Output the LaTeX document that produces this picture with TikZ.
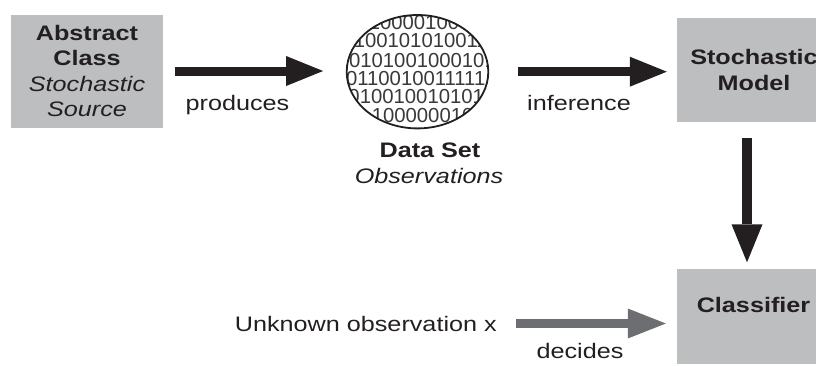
\documentclass[tikz,border=0pt]{standalone}
\usepackage{fontspec}
\setmainfont{Liberation Sans}[FakeStretch=1.2]
\newfontfamily\bitsfont{Liberation Sans}
\usetikzlibrary{arrows.meta,shapes.geometric}
\definecolor{boxgray}{HTML}{BCBEC0}
\definecolor{ink}{HTML}{231F20}
\definecolor{bitink}{HTML}{3A3839}
\definecolor{arrowgray}{HTML}{6D6E71}
\newcommand{\labelsize}{\fontsize{21pt}{25.3pt}\selectfont}

\tikzset{
  every node/.style={text=ink, inner sep=0pt},
  panel/.style={fill=boxgray, draw=none, align=center,
    font=\labelsize\bfseries},
  plainlabel/.style={font=\labelsize, anchor=base},
  boldlabel/.style={font=\labelsize\bfseries, anchor=base},
  itlabel/.style={font=\labelsize\itshape, anchor=base},
  bits/.style={font=\bitsfont\fontsize{20.3pt}{20.3pt}\selectfont,
    anchor=base west, text=bitink},
  bigarrow/.style={draw=ink, line width=9pt,
    -{Triangle[length=37pt 0 0, width=30pt 0 0, line width=0pt 0 0]}},
  grayarrow/.style={draw=arrowgray, line width=8.7pt,
    -{Triangle[length=38pt 0 0, width=30pt 0 0, line width=0pt 0 0]}},
}

\begin{document}
\begin{tikzpicture}[x=1pt, y=-1pt]
\useasboundingbox (0,0) rectangle (816,365);

% source box
\node[panel, minimum width=152pt, minimum height=113pt] (src) at (87,71)
  {Abstract\\Class\\\mdseries\itshape Stochastic\\\mdseries\itshape Source};

% binary digits filling the data set
\begin{scope}
  \clip (417.5,71.7) ellipse [x radius=70.8, y radius=56.7];
  \node[bits] (row1) at (368.6,29)  {100001000};
  \node[bits] (row2) at (353.6,47.5) {100101010011};
  \node[bits] (row3) at (337.6,67)  {10101001000101};
  \node[bits] (row4) at (334.6,85)  {10110010011111};
  \node[bits] (row5) at (337.0,103.5) {1010010010101};
  \node[bits] (row6) at (371.6,122) {10000001000};
\end{scope}
\node[ellipse, draw=ink, line width=1.8pt, minimum width=141.6pt,
  minimum height=113.4pt] (data) at (417.5,71.7) {};
\node[boldlabel] (dsname) at (430,157) {Data Set};
\node[itlabel] (dsobs) at (429,183) {Observations};

% model and classifier boxes
\node[panel, minimum width=154pt, minimum height=104pt] (model) at (754,70)
  {Stochastic\\Model};
\node[panel, minimum width=154pt, minimum height=95pt] (cls) at (754,316) {};
\node[boldlabel] (clsname) at (753.5,312) {Classifier};

% arrow labels
\node[plainlabel] (prod) at (237.5,110) {produces};
\node[plainlabel] (infer) at (579,110) {inference};
\node[plainlabel, anchor=base east] (unk) at (497,331) {Unknown observation x};
\node[plainlabel] (decide) at (580,358) {decides};

% connectors
\draw[bigarrow, shorten <=12pt, shorten >=22.7pt]
  (src.east) -- (src.east -| data.west);
\draw[bigarrow, shorten <=28.7pt, shorten >=10pt]
  (data.east) -- (data.east -| model.west);
\draw[bigarrow, line width=10pt,
  -{Triangle[length=38pt 0 0, width=31pt 0 0, line width=0pt 0 0]},
  shorten <=16pt, shorten >=6pt]
  ([xshift=-7pt]model.south) -- ([xshift=-7pt]model.south |- cls.north);
\draw[grayarrow, shorten <=19pt, shorten >=11pt]
  (unk.east) -- (unk.east -| cls.west);
\end{tikzpicture}
\end{document}
